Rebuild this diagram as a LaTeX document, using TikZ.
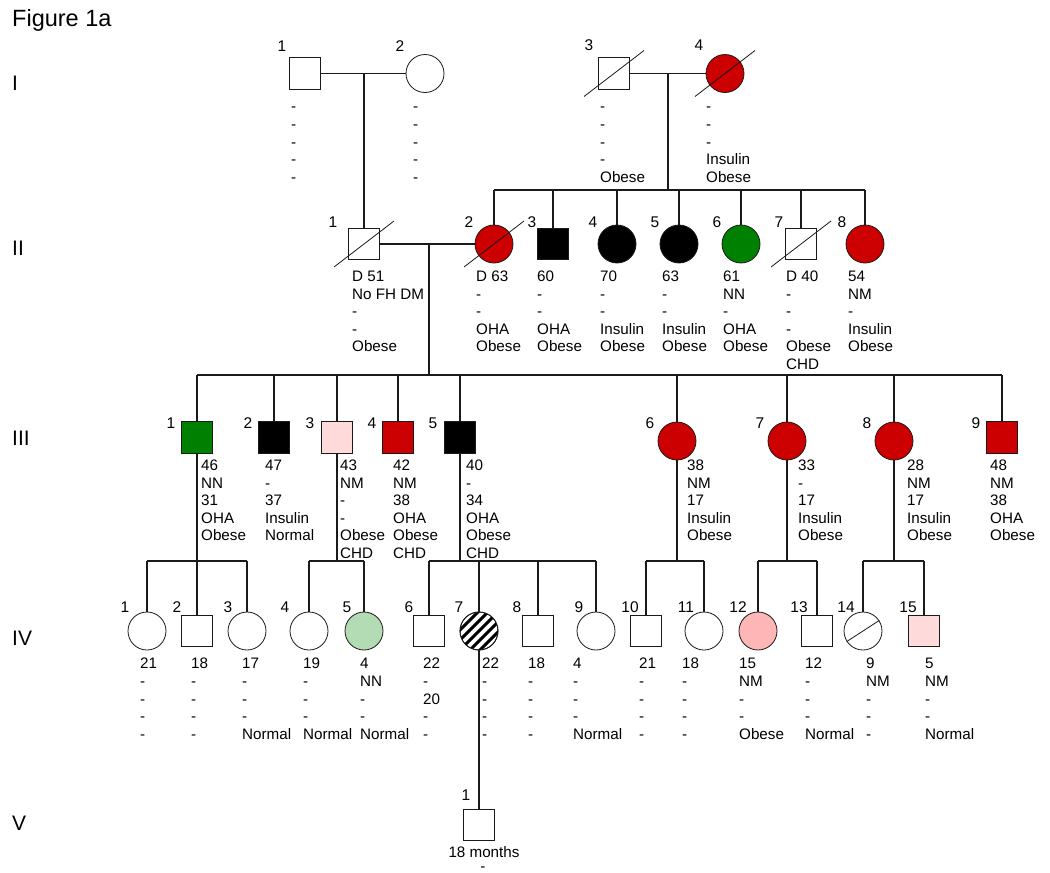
\documentclass[tikz,border=0pt]{standalone}
\usepackage{fontspec}
\setmainfont{Liberation Sans}
\definecolor{dred}{HTML}{CC0000}
\definecolor{dgreen}{HTML}{008000}
\definecolor{lpink}{HTML}{FFDADA}
\definecolor{mpink}{HTML}{FFB6B6}
\definecolor{lgreen}{HTML}{B4DCB4}
\definecolor{ink}{HTML}{1A1A1A}
\tikzset{
 male/.style={draw=ink, line width=1.1pt, rectangle, minimum size=31.5pt, inner sep=0pt, fill=white},
 fem/.style={draw=ink, line width=0.8pt, circle, minimum size=38pt, inner sep=0pt, fill=white},
 con/.style={line width=1.3pt, draw=ink},
 sl/.style={line width=0.8pt, draw=ink},
 lab/.style={font=\fontsize{15.5}{18}\selectfont, inner sep=0pt},
 txt/.style={font=\fontsize{15.2}{17.7}\selectfont, inner sep=0pt, anchor=base west},
 gen/.style={font=\fontsize{21}{24}\selectfont, inner sep=0pt, anchor=west},
}
\newcommand{\pinfo}[5]{%
 \foreach \t [count=\i] in {#5} {\node[txt] (#1-\i) at (#2, {#3+(\i-1)*#4}) {\t};}%
}
\newcommand{\pslash}[1]{\draw[sl] ([shift={(-30,23)}]#1.center) -- ([shift={(30,-23)}]#1.center);}
\begin{document}
\begin{tikzpicture}[x=1pt,y=-1pt]
\useasboundingbox (0,0) rectangle (1050,873);
% title and generation labels
\node[gen, font=\fontsize{23.5}{27}\selectfont] (title) at (12,20) {Figure 1a};
\node[gen] (gI) at (12,83) {I};
\node[gen] (gII) at (12,248) {II};
\node[gen] (gIII) at (12,438) {III};
\node[gen] (gIV) at (12,638) {IV};
\node[gen] (gV) at (12,823) {V};

% ---------- Generation I ----------
\node[male] (i1) at (305,73.5) {};
\node[fem] (i2) at (425,73.5) {};
\node[male] (i3) at (614,73.5) {};
\node[fem, fill=dred] (i4) at (725,73.5) {};
\pslash{i3}\pslash{i4}
\node[lab] (l-i1) at (282,46) {1};
\node[lab] (l-i2) at (400,46) {2};
\node[lab] (l-i3) at (589,45) {3};
\node[lab] (l-i4) at (699,45) {4};
\draw[con] (i1.east) -- (i2.west);
\draw[con] (i3.east) -- (i4.west);
\coordinate (m1) at (364,73.5);
\coordinate (m2) at (668,73.5);
\coordinate (s2) at (668,190);
\pinfo{ti1}{291}{111.5}{17.8}{-,-,-,-,-}
\pinfo{ti2}{413}{111.5}{17.8}{-,-,-,-,-}
\pinfo{ti3}{600}{111.5}{17.8}{-,-,-,-,Obese}
\pinfo{ti4}{706}{111.5}{17.8}{-,-,-,Insulin,Obese}

% ---------- Generation II ----------
\node[male] (ii1) at (364,244) {};
\node[fem, fill=dred] (ii2) at (494,244) {};
\node[male, fill=black] (ii3) at (553,244) {};
\node[fem, fill=black] (ii4) at (617,244) {};
\node[fem, fill=black] (ii5) at (679,244) {};
\node[fem, fill=dgreen] (ii6) at (741,244) {};
\node[male] (ii7) at (801,244) {};
\node[fem, fill=dred] (ii8) at (865,244) {};
\pslash{ii1}\pslash{ii2}\pslash{ii7}
\node[lab] (l-ii1) at (333,222) {1};
\node[lab] (l-ii2) at (469,222) {2};
\node[lab] (l-ii3) at (532,222) {3};
\node[lab] (l-ii4) at (593,222) {4};
\node[lab] (l-ii5) at (655,222) {5};
\node[lab] (l-ii6) at (717,222) {6};
\node[lab] (l-ii7) at (779,222) {7};
\node[lab] (l-ii8) at (842,222) {8};
\draw[con] (m1) -- (ii1.north);
\draw[con] (m2) -- (s2);
\draw[con] (ii2.north |- s2) -- (ii8.north |- s2);
\foreach \n in {ii2,ii3,ii4,ii5,ii6,ii7,ii8} \draw[con] (\n.north |- s2) -- (\n.north);
\draw[con] (ii1.east) -- (ii2.west);
\coordinate (m3) at (429,244);
\coordinate (s3) at (429,375);
\draw[con] (m3) -- (s3);
\pinfo{tii1}{352}{281.5}{17.5}{D 51,No FH DM,-,-,Obese}
\pinfo{tii2}{476}{281.5}{17.5}{D 63,-,-,OHA,Obese}
\pinfo{tii3}{537}{281.5}{17.5}{60,-,-,OHA,Obese}
\pinfo{tii4}{600}{281.5}{17.5}{70,-,-,Insulin,Obese}
\pinfo{tii5}{662}{281.5}{17.5}{63,-,-,Insulin,Obese}
\pinfo{tii6}{723}{281.5}{17.5}{61,NN,-,OHA,Obese}
\pinfo{tii7}{786}{281.5}{17.5}{D 40,-,-,-,Obese,CHD}
\pinfo{tii8}{848}{281.5}{17.5}{54,NM,-,Insulin,Obese}

% ---------- Generation III ----------
\node[male, fill=dgreen] (iii1) at (197,437.5) {};
\node[male, fill=black] (iii2) at (274,437.5) {};
\node[male, fill=lpink] (iii3) at (337,437.5) {};
\node[male, fill=dred] (iii4) at (398,437.5) {};
\node[male, fill=black] (iii5) at (460,437.5) {};
\node[fem, fill=dred] (iii6) at (677,441) {};
\node[fem, fill=dred] (iii7) at (787,441) {};
\node[fem, fill=dred] (iii8) at (894,441) {};
\node[male, fill=dred] (iii9) at (1002,437.5) {};
\node[lab] (l-iii1) at (171,423) {1};
\node[lab] (l-iii2) at (248,423) {2};
\node[lab] (l-iii3) at (310,423) {3};
\node[lab] (l-iii4) at (372,423) {4};
\node[lab] (l-iii5) at (433,423) {5};
\node[lab] (l-iii6) at (650,423) {6};
\node[lab] (l-iii7) at (760,423) {7};
\node[lab] (l-iii8) at (867,423) {8};
\node[lab] (l-iii9) at (976,423) {9};
\draw[con] (iii1.north |- s3) -- (iii9.north |- s3);
\foreach \n in {iii1,iii2,iii3,iii4,iii5,iii6,iii7,iii8,iii9} \draw[con] (\n.north |- s3) -- (\n.north);
\pinfo{tiii1}{201}{470.5}{17.6}{46,NN,31,OHA,Obese}
\pinfo{tiii2}{265}{470.5}{17.6}{47,-,37,Insulin,Normal}
\pinfo{tiii3}{340}{470.5}{17.6}{43,NM,-,-,Obese,CHD}
\pinfo{tiii4}{393}{470.5}{17.6}{42,NM,38,OHA,Obese,CHD}
\pinfo{tiii5}{466}{470.5}{17.6}{40,-,34,OHA,Obese,CHD}
\pinfo{tiii6}{687}{470.5}{17.6}{38,NM,17,Insulin,Obese}
\pinfo{tiii7}{798}{470.5}{17.6}{33,-,17,Insulin,Obese}
\pinfo{tiii8}{907}{470.5}{17.6}{28,NM,17,Insulin,Obese}
\pinfo{tiii9}{990}{470.5}{17.6}{48,NM,38,OHA,Obese}

% ---------- Generation IV ----------
\node[fem] (iv1) at (147,631) {};
\node[male] (iv2) at (197,631) {};
\node[fem] (iv3) at (247,631) {};
\node[fem] (iv4) at (309,631) {};
\node[fem, fill=lgreen] (iv5) at (364,631) {};
\node[male] (iv6) at (429,631) {};
\node[fem] (iv7) at (479,631) {};
\node[male] (iv8) at (538,631) {};
\node[fem] (iv9) at (596,631) {};
\node[male] (iv10) at (646,631) {};
\node[fem] (iv11) at (704,631) {};
\node[fem, fill=mpink] (iv12) at (758,631) {};
\node[male] (iv13) at (817,631) {};
\node[fem] (iv14) at (863,631) {};
\node[male, fill=lpink] (iv15) at (924,631) {};
% hatching of IV-7
\begin{scope}[shift={(479,631)}]
 \clip (0,0) circle[radius=19pt];
 \foreach \c in {-50,-40,...,50} \draw[line width=3pt] (-30,{30+\c}) -- (30,{-30+\c});
\end{scope}
\draw[line width=0.8pt, draw=ink] (iv7.center) circle[radius=19pt];
\draw[sl] (iv14.213) -- (iv14.33);
\node[lab] (l-iv1) at (125,607) {1};
\node[lab] (l-iv2) at (177,607) {2};
\node[lab] (l-iv3) at (228,607) {3};
\node[lab] (l-iv4) at (285,607) {4};
\node[lab] (l-iv5) at (347,607) {5};
\node[lab] (l-iv6) at (409,607) {6};
\node[lab] (l-iv7) at (459,607) {7};
\node[lab] (l-iv8) at (517,607) {8};
\node[lab] (l-iv9) at (579,607) {9};
\node[lab] (l-iv10) at (630,607) {10};
\node[lab] (l-iv11) at (686,607) {11};
\node[lab] (l-iv12) at (738,607) {12};
\node[lab] (l-iv13) at (799,607) {13};
\node[lab] (l-iv14) at (846,607) {14};
\node[lab] (l-iv15) at (908,607) {15};
% sibships
\coordinate (s4a) at (197,561);
\coordinate (s4b) at (337,561);
\coordinate (s4c) at (460,561);
\coordinate (s4d) at (677,561);
\coordinate (s4e) at (787,561);
\coordinate (s4f) at (894,561);
\draw[con] (iii1.south) -- (iv2.north);
\draw[con] (iv1.north |- s4a) -- (iv3.north |- s4a);
\draw[con] (iv1.north |- s4a) -- (iv1.north);
\draw[con] (iv3.north |- s4a) -- (iv3.north);
\draw[con] (iii3.south) -- (s4b);
\draw[con] (iv4.north |- s4b) -- (iv5.north |- s4b);
\foreach \n in {iv4,iv5} \draw[con] (\n.north |- s4b) -- (\n.north);
\draw[con] (iii5.south) -- (s4c);
\draw[con] (iv6.north |- s4c) -- (iv9.north |- s4c);
\foreach \n in {iv6,iv7,iv8,iv9} \draw[con] (\n.north |- s4c) -- (\n.north);
\draw[con] (iii6.south) -- (s4d);
\draw[con] (iv10.north |- s4d) -- (iv11.north |- s4d);
\foreach \n in {iv10,iv11} \draw[con] (\n.north |- s4d) -- (\n.north);
\draw[con] (iii7.south) -- (s4e);
\draw[con] (iv12.north |- s4e) -- (iv13.north |- s4e);
\foreach \n in {iv12,iv13} \draw[con] (\n.north |- s4e) -- (\n.north);
\draw[con] (iii8.south) -- (s4f);
\draw[con] (iv14.north |- s4f) -- (iv15.north |- s4f);
\foreach \n in {iv14,iv15} \draw[con] (\n.north |- s4f) -- (\n.north);
\pinfo{tiv1}{140}{668.5}{17.8}{21,-,-,-,-}
\pinfo{tiv2}{191}{668.5}{17.8}{18,-,-,-,-}
\pinfo{tiv3}{242}{668.5}{17.8}{17,-,-,-,Normal}
\pinfo{tiv4}{303}{668.5}{17.8}{19,-,-,-,Normal}
\pinfo{tiv5}{360}{668.5}{17.8}{4,NN,-,-,Normal}
\pinfo{tiv6}{423}{668.5}{17.8}{22,-,20,-,-}
\pinfo{tiv7}{482}{668.5}{17.8}{22,-,-,-,-}
\pinfo{tiv8}{528}{668.5}{17.8}{18,-,-,-,-}
\pinfo{tiv9}{573}{668.5}{17.8}{4,-,-,-,Normal}
\pinfo{tiv10}{639}{668.5}{17.8}{21,-,-,-,-}
\pinfo{tiv11}{682}{668.5}{17.8}{18,-,-,-,-}
\pinfo{tiv12}{739}{668.5}{17.8}{15,NM,-,-,Obese}
\pinfo{tiv13}{805}{668.5}{17.8}{12,-,-,-,Normal}
\pinfo{tiv14}{866}{668.5}{17.8}{9,NM,-,-,-}
\pinfo{tiv15}{925}{668.5}{17.8}{5,NM,-,-,Normal}

% ---------- Generation V ----------
\node[male] (v1) at (479,825) {};
\node[lab] (l-v1) at (466,795) {1};
\draw[con] (iv7.south) -- (v1.north);
\node[txt, anchor=base] (tv1-1) at (484,857.5) {18 months};
\node[txt, anchor=base] (tv1-2) at (483,871) {-};
\end{tikzpicture}
\end{document}
